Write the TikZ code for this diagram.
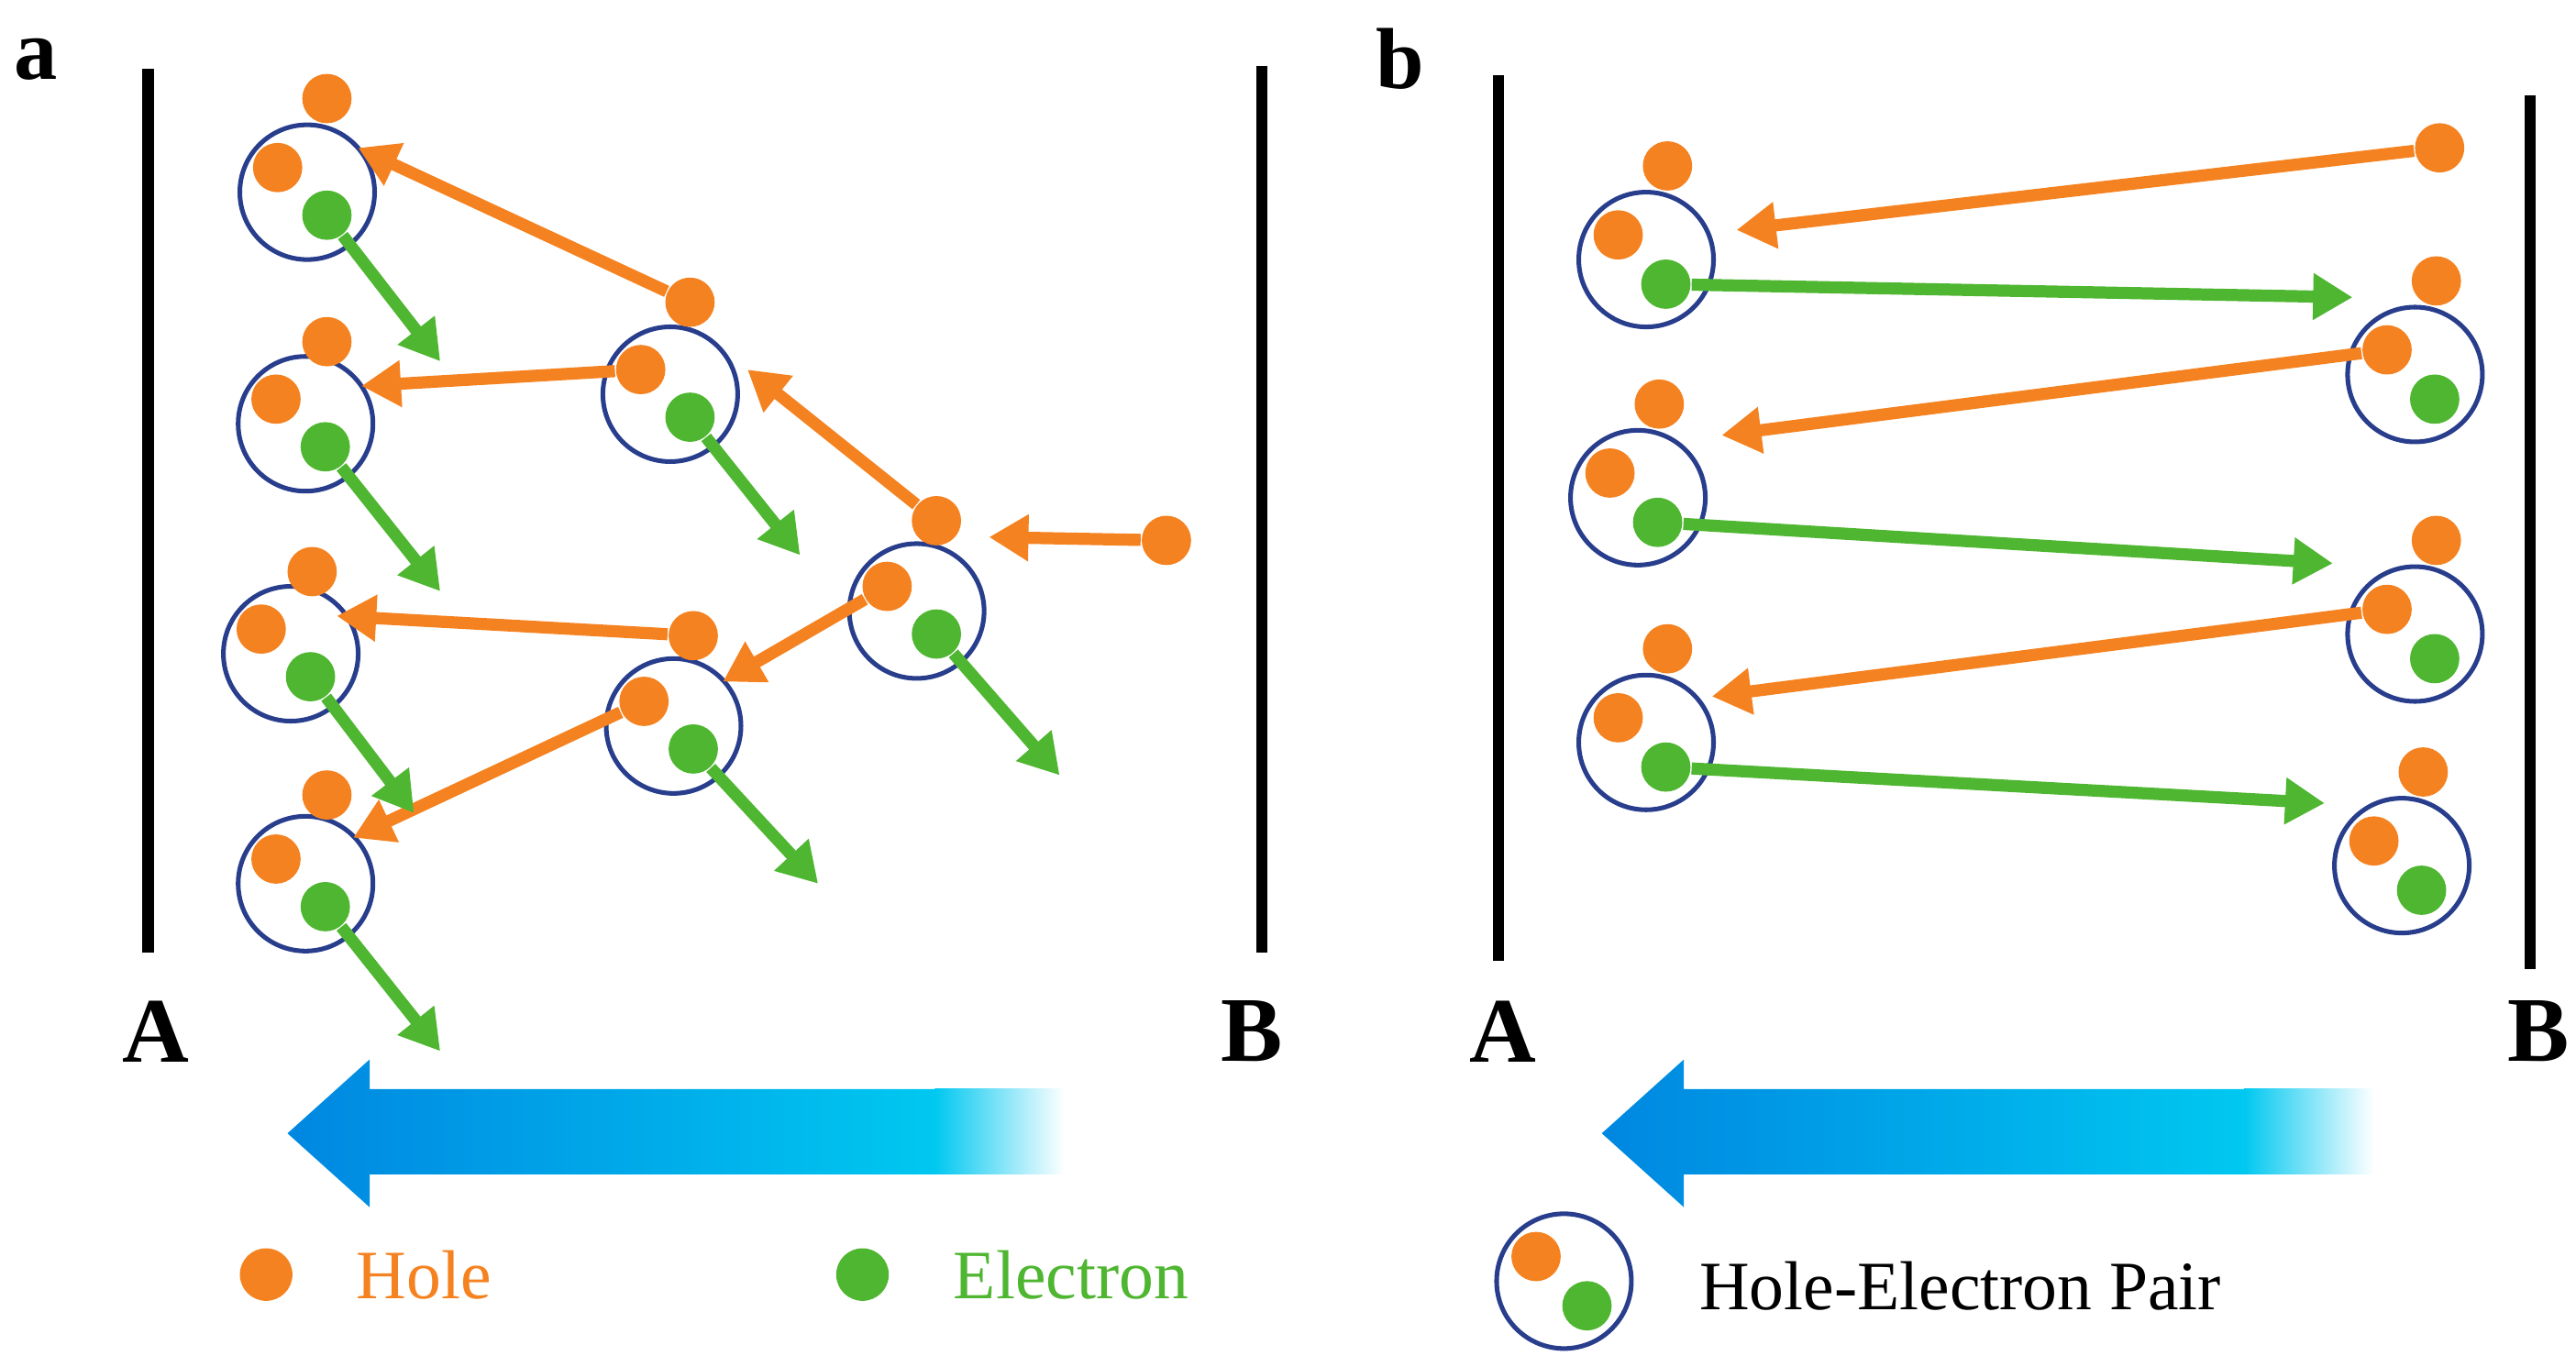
\documentclass[tikz,border=0pt]{standalone}
\usepackage{fontspec}
\setmainfont{Liberation Serif}
\usetikzlibrary{arrows.meta}
\definecolor{hole}{RGB}{245,130,32}
\definecolor{elec}{RGB}{78,182,48}
\definecolor{ring}{RGB}{40,62,140}
\definecolor{deepb}{RGB}{0,135,225}
\definecolor{cyanb}{RGB}{0,200,240}
\begin{document}
\begin{tikzpicture}[x=0.01cm,y=-0.01cm,
  h/.style={circle,fill=hole,inner sep=0,minimum size=0.3cm},
  e/.style={circle,fill=elec,inner sep=0,minimum size=0.3cm},
  pr/.style={circle,draw=ring,line width=0.8pt,inner sep=0,minimum size=0.82cm},
  ha/.style={draw=hole,line width=2.1pt,-{Triangle[length=0.24cm,width=0.27cm]}},
  ea/.style={draw=elec,line width=2.1pt,-{Triangle[length=0.24cm,width=0.27cm]}},
  wall/.style={line width=2pt},
  lab/.style={font=\bfseries\fontsize{16}{18}\selectfont},
  pl/.style={font=\bfseries\fontsize{15}{17}\selectfont},
  leg/.style={font=\fontsize{12}{14}\selectfont}]
\useasboundingbox (0,0) rectangle (1568,832);
% ---- panel a
\node[pl] (la) at (22,36) {a};
\draw[wall] (90,42) coordinate (a1) -- (90,580) coordinate (a2);
\draw[wall] (768,40) coordinate (b1) -- (768,580) coordinate (b2);
\node[lab] (A1) at (95,628) {A};
\node[lab] (B1) at (762,628) {B};
\foreach \n/\x/\y/\fx/\fy in {p1/187/117/199/60, p2/186/258/199/208, p3/177/398/190/348, p4/186/538/199/484, p5/408/240/420/184, p6/410/442/422/387, p7/558/372/570/317}{
  \node[pr] (\n) at (\x,\y) {};
  \node[h] (\n h) at (\x-18,\y-15) {};
  \node[e] (\n e) at (\x+12,\y+14) {};
  \node[h] (\n f) at (\fx,\fy) {};
}
\node[h] (far) at (710,329) {};
\coordinate (t1) at (218,90); \coordinate (t2) at (220,235); \coordinate (t3) at (455,225);
\coordinate (t4) at (602,327); \coordinate (t5) at (205,375); \coordinate (t6) at (440,415);
\coordinate (t7) at (215,510);
\draw[ha] (p5f) -- (t1);
\draw[ha] (p5h) -- (t2);
\draw[ha] (p7f) -- (t3);
\draw[ha] (far) -- (t4);
\draw[ha] (p6f) -- (t5);
\draw[ha] (p7h) -- (t6);
\draw[ha] (p6h) -- (t7);
\coordinate (g1) at (268,220); \coordinate (g2) at (268,360); \coordinate (g3) at (252,495);
\coordinate (g4) at (268,640); \coordinate (g5) at (487,338); \coordinate (g6) at (498,538);
\coordinate (g7) at (645,472);
\draw[ea] (p1e) -- (g1); \draw[ea] (p2e) -- (g2); \draw[ea] (p3e) -- (g3);
\draw[ea] (p4e) -- (g4); \draw[ea] (p5e) -- (g5); \draw[ea] (p6e) -- (g6);
\draw[ea] (p7e) -- (g7);
\shade[left color=deepb,right color=cyanb] (175,690) -- (225,645) -- (225,663) -- (570,663) -- (570,715) -- (225,715) -- (225,735) -- cycle;
\shade[left color=cyanb,right color=white] (569,663) rectangle (648,715);
\node[h,minimum size=0.32cm] (lh) at (162,776) {};
\node[text=hole,leg] (lht) at (258,776) {Hole};
\node[e,minimum size=0.32cm] (le) at (525,776) {};
\node[text=elec,leg] (let) at (652,776) {Electron};
% ---- panel b
\node[pl] (lb) at (852,36) {b};
\draw[wall] (912,46) coordinate (c1) -- (912,585) coordinate (c2);
\draw[wall] (1540,58) coordinate (d1) -- (1540,590) coordinate (d2);
\node[lab] (A2) at (915,628) {A};
\node[lab] (B2) at (1545,628) {B};
\foreach \n/\x/\y in {q1/1002/158, q2/997/303, q3/1002/452, r1/1470/228, r2/1470/386, r3/1462/527}{
  \node[pr] (\n) at (\x,\y) {};
  \node[h] (\n h) at (\x-17,\y-15) {};
  \node[e] (\n e) at (\x+12,\y+15) {};
  \node[h] (\n f) at (\x+13,\y-57) {};
}
\node[h] (farb) at (1485,90) {};
\coordinate (u1) at (1057,140); \coordinate (u2) at (1048,265); \coordinate (u3) at (1042,424);
\draw[ha] (farb) -- (u1);
\draw[ha] (r1h) -- (u2);
\draw[ha] (r2h) -- (u3);
\coordinate (v1) at (1432,181); \coordinate (v2) at (1420,343); \coordinate (v3) at (1415,489);
\draw[ea] (q1e) -- (v1);
\draw[ea] (q2e) -- (v2);
\draw[ea] (q3e) -- (v3);
\shade[left color=deepb,right color=cyanb] (975,690) -- (1025,645) -- (1025,663) -- (1367,663) -- (1367,715) -- (1025,715) -- (1025,735) -- cycle;
\shade[left color=cyanb,right color=white] (1366,663) rectangle (1445,715);
\node[pr] (lp) at (952,780) {};
\node[h] (lph) at (935,765) {};
\node[e] (lpe) at (966,795) {};
\node[leg,anchor=west] (lpt) at (1022,783) {Hole-Electron Pair};
\end{tikzpicture}
\end{document}
